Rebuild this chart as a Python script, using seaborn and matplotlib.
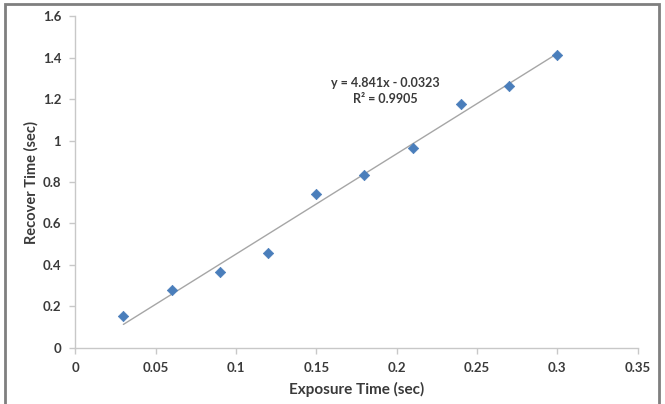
import numpy as np
import pandas as pd
import matplotlib
matplotlib.use("Agg")
import matplotlib.pyplot as plt
from matplotlib.patches import Rectangle
import seaborn as sns

exposure = [0.03, 0.06, 0.09, 0.12, 0.15, 0.18, 0.21, 0.24, 0.27, 0.30]
recover = [0.154, 0.277, 0.367, 0.457, 0.741, 0.836, 0.965, 1.174, 1.264, 1.415]
slope = 4.841
intercept = -0.0323
r2 = 0.9905
x_ticks = [0, 0.05, 0.1, 0.15, 0.2, 0.25, 0.3, 0.35]
x_tick_labels = ["0", "0.05", "0.1", "0.15", "0.2", "0.25", "0.3", "0.35"]
y_ticks = [0, 0.2, 0.4, 0.6, 0.8, 1.0, 1.2, 1.4, 1.6]
y_tick_labels = ["0", "0.2", "0.4", "0.6", "0.8", "1", "1.2", "1.4", "1.6"]

sns.set_theme(style="white")
plt.rcParams['font.family'] = ['Lato', 'DejaVu Sans']

df = pd.DataFrame({"Exposure Time (sec)": exposure, "Recover Time (sec)": recover})

fig = plt.figure(figsize=(6.65, 4.04), dpi=100)
ax = fig.add_axes([0.113, 0.139, 0.846, 0.821])

# trendline
xs = np.array([min(exposure), max(exposure)])
trend = pd.DataFrame({"x": xs, "y": slope * xs + intercept})
sns.lineplot(data=trend, x="x", y="y", ax=ax, color="#A6A6A6", linewidth=1.0)

sns.scatterplot(data=df, x="Exposure Time (sec)", y="Recover Time (sec)", ax=ax,
                marker="D", s=28, color="#4A7EBB", edgecolor="#4A7EBB", linewidth=0.5, zorder=3)

ax.set_xlim(0, 0.35)
ax.set_ylim(0, 1.6)
ax.set_xticks(x_ticks)
ax.set_xticklabels(x_tick_labels)
ax.set_yticks(y_ticks)
ax.set_yticklabels(y_tick_labels)

for s in ["top", "right"]:
    ax.spines[s].set_visible(False)
for s in ["left", "bottom"]:
    ax.spines[s].set_color("#C8C8C8")
    ax.spines[s].set_linewidth(1.0)

ax.tick_params(axis="both", which="major", direction="out", length=4, width=1.0,
               color="#C8C8C8", labelsize=9.5, labelcolor="#3A3A3A", pad=6,
               bottom=True, left=True)
for lab in ax.get_xticklabels() + ax.get_yticklabels():
    lab.set_fontweight("bold")

ax.set_xlabel("Exposure Time (sec)", fontsize=11, fontweight="bold", color="#3A3A3A", labelpad=6)
ax.set_ylabel("Recover Time (sec)", fontsize=10.5, fontweight="bold", color="#3A3A3A", labelpad=3)

ax.text(0.193, 1.238, f"y = {slope}x - {abs(intercept)}\nR² = {r2}", ha="center", va="center",
        fontsize=9, fontweight="bold", color="#3A3A3A", linespacing=1.35)

# chart border
fig.patches.append(Rectangle((0.007, -0.05), 0.984, 1.039, transform=fig.transFigure,
                             fill=False, edgecolor="#7F7F7F", linewidth=2.0))

fig.savefig("out.png", dpi=100)
